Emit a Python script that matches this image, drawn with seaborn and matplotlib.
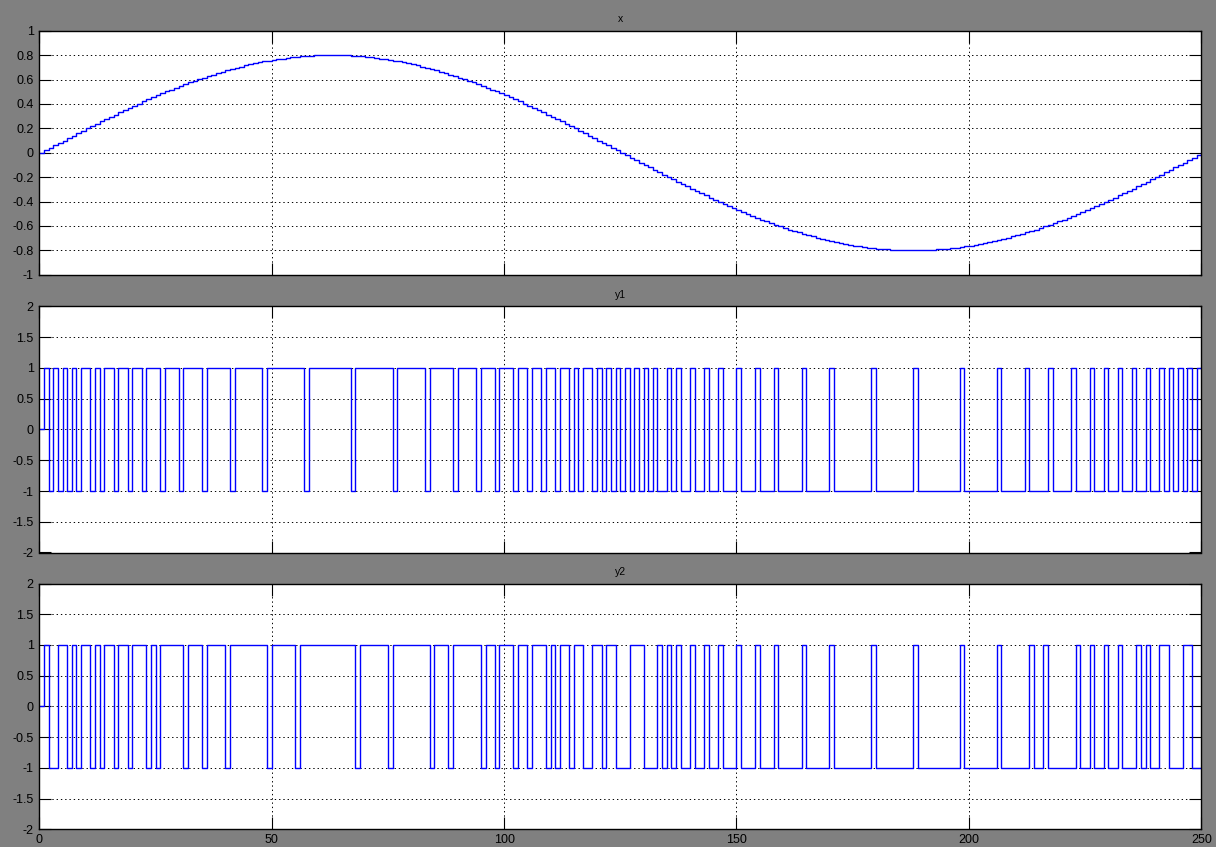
import matplotlib
matplotlib.use("Agg")
import matplotlib.pyplot as plt
import pandas as pd
import seaborn as sns

# ---------------------------------------------------------------- data
T_END = 250

# sampled input x (one sample per time unit, t = 0 .. 250)
x_vals = [
    0.000, 0.020, 0.040, 0.060, 0.080, 0.100, 0.120, 0.140, 0.160, 0.179,
    0.199, 0.218, 0.238, 0.257, 0.276, 0.295, 0.313, 0.332, 0.350, 0.368,
    0.385, 0.403, 0.420, 0.437, 0.454, 0.470, 0.486, 0.502, 0.518, 0.533,
    0.548, 0.562, 0.576, 0.590, 0.603, 0.616, 0.629, 0.641, 0.653, 0.665,
    0.676, 0.686, 0.696, 0.706, 0.715, 0.724, 0.732, 0.740, 0.748, 0.754,
    0.761, 0.767, 0.772, 0.777, 0.782, 0.786, 0.789, 0.792, 0.795, 0.797,
    0.798, 0.799, 0.800, 0.800, 0.799, 0.798, 0.797, 0.795, 0.792, 0.789,
    0.786, 0.782, 0.777, 0.772, 0.767, 0.761, 0.754, 0.748, 0.740, 0.732,
    0.724, 0.715, 0.706, 0.696, 0.686, 0.676, 0.665, 0.653, 0.641, 0.629,
    0.616, 0.603, 0.590, 0.576, 0.562, 0.548, 0.533, 0.518, 0.502, 0.486,
    0.470, 0.454, 0.437, 0.420, 0.403, 0.385, 0.368, 0.350, 0.332, 0.313,
    0.295, 0.276, 0.257, 0.238, 0.218, 0.199, 0.179, 0.160, 0.140, 0.120,
    0.100, 0.080, 0.060, 0.040, 0.020, 0.000, -0.020, -0.040, -0.060, -0.080,
    -0.100, -0.120, -0.140, -0.160, -0.179, -0.199, -0.218, -0.238, -0.257, -0.276,
    -0.295, -0.313, -0.332, -0.350, -0.368, -0.385, -0.403, -0.420, -0.437, -0.454,
    -0.470, -0.486, -0.502, -0.518, -0.533, -0.548, -0.562, -0.576, -0.590, -0.603,
    -0.616, -0.629, -0.641, -0.653, -0.665, -0.676, -0.686, -0.696, -0.706, -0.715,
    -0.724, -0.732, -0.740, -0.748, -0.754, -0.761, -0.767, -0.772, -0.777, -0.782,
    -0.786, -0.789, -0.792, -0.795, -0.797, -0.798, -0.799, -0.800, -0.800, -0.799,
    -0.798, -0.797, -0.795, -0.792, -0.789, -0.786, -0.782, -0.777, -0.772, -0.767,
    -0.761, -0.754, -0.748, -0.740, -0.732, -0.724, -0.715, -0.706, -0.696, -0.686,
    -0.676, -0.665, -0.653, -0.641, -0.629, -0.616, -0.603, -0.590, -0.576, -0.562,
    -0.548, -0.533, -0.518, -0.502, -0.486, -0.470, -0.454, -0.437, -0.420, -0.403,
    -0.385, -0.368, -0.350, -0.332, -0.313, -0.295, -0.276, -0.257, -0.238, -0.218,
    -0.199, -0.179, -0.160, -0.140, -0.120, -0.100, -0.080, -0.060, -0.040, -0.020,
    0.000,
]

# Switching outputs: level is 0 at t = 0, jumps to +1 at the first listed
# time and then toggles between +1 and -1 at every following time.
y1_switch = [
    1, 2, 3, 4, 5, 6, 7, 8, 9, 11, 12, 13, 14, 16, 17, 19, 20, 22, 23, 26,
    27, 30, 31, 35, 36, 41, 42, 48, 49, 57, 58, 67, 68, 76, 77, 83, 84, 89,
    90, 94, 95, 98, 99, 102, 103, 105, 106, 108, 109, 111, 112, 114, 115,
    116, 117, 119, 120, 121, 122, 123, 124, 125, 126, 127, 128, 129, 130,
    131, 132, 133, 135, 136, 137, 138, 140, 141, 143, 144, 146, 147, 150,
    151, 154, 155, 158, 159, 164, 165, 170, 171, 179, 180, 188, 189, 198,
    199, 206, 207, 212, 213, 217, 218, 222, 223, 226, 227, 229, 230, 232,
    233, 235, 236, 238, 239, 241, 242, 243, 244, 245, 246, 247, 248, 249,
]

y2_switch = [
    1, 2, 4, 6, 7, 8, 9, 11, 12, 13, 14, 16, 17, 19, 20, 23, 24, 25, 26, 31,
    32, 35, 36, 40, 41, 49, 50, 55, 56, 68, 69, 75, 76, 84, 85, 88, 89, 95,
    96, 98, 99, 102, 103, 105, 106, 109, 110, 111, 112, 114, 115, 117, 119,
    121, 122, 124, 127, 130, 133, 134, 135, 136, 137, 138, 140, 141, 143,
    144, 146, 147, 150, 151, 154, 155, 158, 159, 164, 165, 170, 171, 179,
    180, 188, 189, 198, 199, 206, 207, 213, 214, 216, 217, 223, 224, 226,
    227, 229, 230, 232, 233, 236, 237, 238, 239, 241, 243, 246, 248,
]

x_ticks = [0, 50, 100, 150, 200, 250]
x_yticks = [-1, -0.8, -0.6, -0.4, -0.2, 0, 0.2, 0.4, 0.6, 0.8, 1]
y_yticks = [-2, -1.5, -1, -0.5, 0, 0.5, 1, 1.5, 2]
titles = ["x", "y1", "y2"]


def step_frame(times, levels):
    return pd.DataFrame({"t": times, "v": levels})


def switching_frame(switch_times):
    times, levels = [0], [0]
    level = 1
    for s in switch_times:
        times.append(s)
        levels.append(level)
        level = -level
    times.append(T_END)
    levels.append(levels[-1])
    return step_frame(times, levels)


def tick_text(v):
    return "%g" % v


# ---------------------------------------------------------------- figure
plt.rcParams["font.family"] = ["Liberation Sans", "DejaVu Sans"]
BG = "#808080"
LINE = "#0000ff"

fig = plt.figure(figsize=(12.16, 8.47), dpi=100, facecolor=BG)
W, H = 1216.0, 847.0
left, right = 39.3, 1201.3
panels = [(30.7, 274.8), (306.5, 552.5), (583.5, 829.4)]

frames = [
    step_frame(list(range(len(x_vals))), x_vals),
    switching_frame(y1_switch),
    switching_frame(y2_switch),
]

for i, ((top, bottom), df) in enumerate(zip(panels, frames)):
    ax = fig.add_axes([left / W, 1 - bottom / H, (right - left) / W, (bottom - top) / H])
    ax.set_facecolor("white")
    sns.lineplot(data=df, x="t", y="v", ax=ax, drawstyle="steps-post",
                 color=LINE, linewidth=1.0, estimator=None, sort=False)
    ax.set_xlim(0, T_END)
    if i == 0:
        ax.set_ylim(-1, 1)
        ax.set_yticks(x_yticks)
        ax.set_yticklabels([tick_text(v) for v in x_yticks])
    else:
        ax.set_ylim(-2, 2)
        ax.set_yticks(y_yticks)
        ax.set_yticklabels([tick_text(v) for v in y_yticks])
    ax.set_xticks(x_ticks)
    if i == 2:
        ax.set_xticklabels([str(v) for v in x_ticks])
    else:
        ax.set_xticklabels([])
    ax.set_xlabel("")
    ax.set_ylabel("")
    ax.grid(True, color="black", linewidth=0.7, linestyle=(0, (1.4, 3.0)))
    ax.set_axisbelow(True)
    # the outermost grid lines sit on the frame; hide them there
    for gl in ax.get_ygridlines()[:1] + ax.get_ygridlines()[-1:]:
        gl.set_visible(False)
    for gl in ax.get_xgridlines()[:1] + ax.get_xgridlines()[-1:]:
        gl.set_visible(False)
    ax.tick_params(direction="in", length=8.4, width=0.8, color="black",
                   top=True, right=True, labelsize=9, labelcolor="black", pad=4)
    ax.tick_params(axis="x", pad=3)
    for sp in ax.spines.values():
        sp.set_color("black")
        sp.set_linewidth(1.0)
    ax.set_title(titles[i], fontsize=7.5, color="black", pad=6)

fig.savefig("out.png", dpi=100, facecolor=BG)
